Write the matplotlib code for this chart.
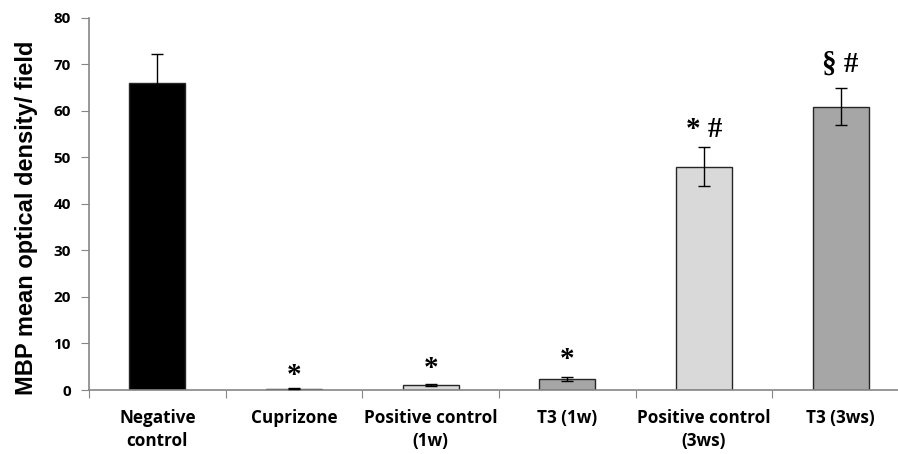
import numpy as np
import matplotlib
matplotlib.use('Agg')
import matplotlib.pyplot as plt

# values
groups = ['Negative\ncontrol', 'Cuprizone', 'Positive control\n(1w)', 'T3 (1w)',
          'Positive control\n(3ws)', 'T3 (3ws)']
means = [66.0, 0.3, 1.0, 2.4, 48.0, 60.9]
errs = [6.2, 0.05, 0.2, 0.4, 4.1, 4.0]
colors = ['#000000', '#404040', '#d9d9d9', '#a6a6a6', '#d9d9d9', '#a6a6a6']
marks = ['', '*', '*', '*', '* #', '§ #']
mark_y = [0, 3.2, 4.6, 6.5, 56.0, 70.0]

fig = plt.figure(figsize=(8.98, 4.54), dpi=100)
ax = fig.add_axes([89 / 898, 1 - 390 / 454, (909 - 89) / 898, (390 - 17.6) / 454])

x = np.arange(len(groups))
ax.bar(x, means, width=0.41, color=colors, edgecolor='#262626', linewidth=1.0, zorder=2)
ax.errorbar(x, means, yerr=errs, fmt='none', ecolor='black', elinewidth=1.0,
            capsize=4, capthick=1.0, zorder=3)

for xi, m, my in zip(x, marks, mark_y):
    if m:
        ax.text(xi, my, m, ha='center', va='center', fontsize=21,
                family='Liberation Serif', fontweight='bold')

ax.set_xlim(-0.5, len(groups) - 0.5)
ax.set_ylim(0, 80)
ax.set_yticks(np.arange(0, 81, 10))
ax.set_xticks(np.arange(-0.5, len(groups), 1.0))
ax.set_xticklabels([])
ax.set_xticks(x, minor=True)
ax.set_xticklabels(groups, minor=True, fontsize=12.3, fontweight='bold', family='Open Sans',
                   linespacing=1.3)
ax.tick_params(axis='x', which='minor', length=0, pad=14)
ax.tick_params(axis='x', which='major', length=6, color='#868686')
ax.tick_params(axis='y', length=6, color='#868686', labelsize=11, pad=7)
for lab in ax.get_yticklabels():
    lab.set_fontweight('bold')
    lab.set_family('Open Sans')

for s in ['top', 'right']:
    ax.spines[s].set_visible(False)
for s in ['left', 'bottom']:
    ax.spines[s].set_color('#868686')
    ax.spines[s].set_linewidth(1.2)

ax.set_ylabel('MBP mean optical density/ field', fontsize=17, fontweight='bold',
              family='Liberation Sans')
ax.yaxis.set_label_coords(-0.062, 0.462)

fig.savefig('out.png', dpi=100)
